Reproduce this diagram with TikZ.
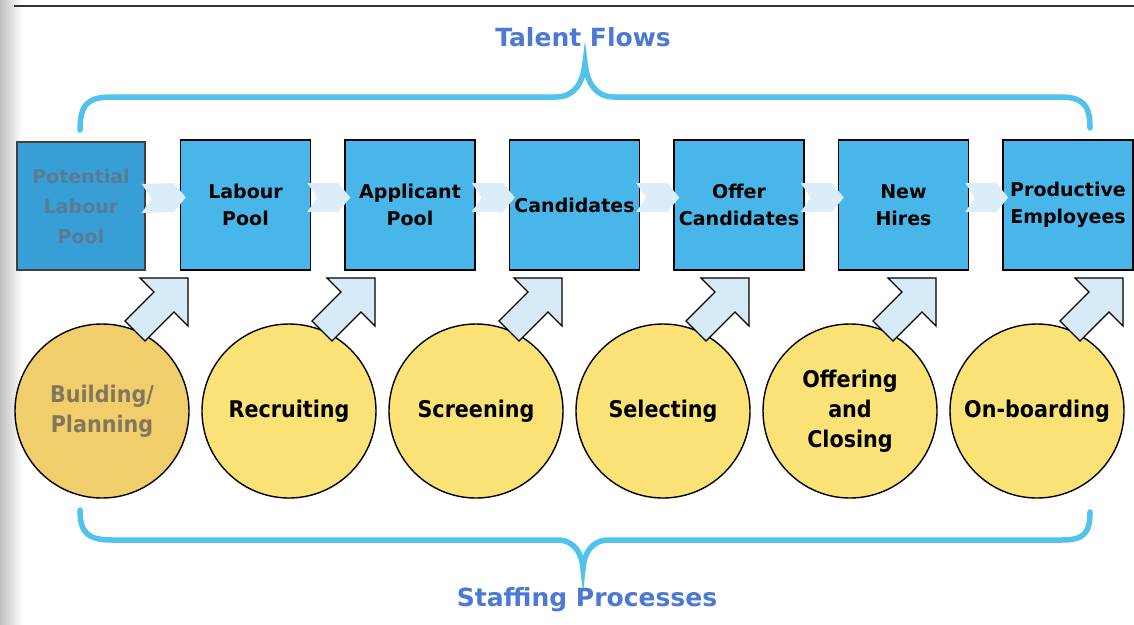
\documentclass[tikz,border=0pt]{standalone}
\usepackage{fontspec}
\setmainfont{DejaVu Sans}
\newfontfamily\condfont[FakeStretch=0.9]{DejaVu Sans}
\usetikzlibrary{calc}
\definecolor{boxblue}{RGB}{72,182,232}
\definecolor{boxblueA}{RGB}{56,158,214}
\definecolor{circyellow}{RGB}{250,226,118}
\definecolor{circyellowA}{RGB}{241,206,108}
\definecolor{arrowfill}{RGB}{214,234,247}
\definecolor{chevfill}{RGB}{218,237,249}
\definecolor{bracecol}{RGB}{80,194,236}
\definecolor{titlecol}{RGB}{76,121,212}
\definecolor{fadedbox}{RGB}{92,122,148}
\definecolor{fadedcirc}{RGB}{132,118,92}
\newcommand{\boxfont}{\bfseries\fontsize{19}{27}\selectfont}
\newcommand{\boxfontA}{\bfseries\fontsize{19}{30}\selectfont}
\newcommand{\circfont}{\condfont\bfseries\fontsize{23}{30}\selectfont}
\newcommand{\titlefont}{\bfseries\fontsize{25}{30}\selectfont}
\tikzset{
  fbox/.style={draw=black, line width=1.4pt, fill=boxblue, minimum width=130pt,
    minimum height=130pt, inner sep=0pt, align=center, font=\boxfont},
  fcirc/.style={circle, draw=black, line width=1.4pt, fill=circyellow,
    minimum size=174pt, inner sep=0pt, align=center, font=\circfont},
  darrow/.style={draw=black, line width=1.3pt, fill=arrowfill, line join=miter},
  chev/.style={fill=chevfill},
  brace/.style={draw=bracecol, line width=5.5pt, line cap=round},
  title/.style={text=titlecol, font=\titlefont, inner sep=0pt}
}
\begin{document}
\begin{tikzpicture}[x=1pt,y=-1pt]
\useasboundingbox (0,0) rectangle (1134,624);
\fill[white] (0,0) rectangle (1134,624);
% scan shading at left and top rule
\shade[left color=black!25, right color=white] (0,0) rectangle (22,624);
\draw[black!80, line width=1.5pt] (14,6) -- (1134,6);

% talent flow boxes
\node[fbox, fill=boxblueA, draw=black!75, minimum width=128pt, minimum height=128pt, text=fadedbox, font=\boxfontA] (b1) at (81,206) {Potential\\Labour\\Pool};
\node[fbox] (b2) at (245.5,205) {Labour\\Pool};
\node[fbox] (b3) at (410,205) {Applicant\\Pool};
\node[fbox] (b4) at (574.5,205) {Candidates};
\node[fbox] (b5) at (739,205) {Offer\\Candidates};
\node[fbox] (b6) at (903.5,205) {New\\Hires};
\node[fbox] (b7) at (1068,205) {Productive\\Employees};

% staffing process circles
\node[fcirc, fill=circyellowA, text=fadedcirc] (c1) at (102,411) {Building/\\Planning};
\node[fcirc] (c2) at (289,411) {Recruiting};
\node[fcirc] (c3) at (476,411) {Screening};
\node[fcirc] (c4) at (663,411) {Selecting};
\node[fcirc] (c5) at (850,411) {Offering\\and\\Closing};
\node[fcirc] (c6) at (1037,411) {On-boarding};

% chevrons between boxes
\foreach \a/\b in {b1/b2,b2/b3,b3/b4,b4/b5,b5/b6,b6/b7}{
  \fill[chev] ($(\a.east)+(-4,-22)$) -- ($(\b.west)+(-6,-22)$) -- ($(\b.west)+(6,-7.5)$)
    -- ($(\b.west)+(-6,7)$) -- ($(\a.east)+(-4,7)$) -- ($(\a.east)+(6,-7.5)$) -- cycle;
}

% diagonal block arrows from circles to the flow row
\foreach \c/\n in {c1/1,c2/2,c3/3,c4/4,c5/5,c6/6}{
  \coordinate (t\n) at ($(\c.center)+(86,-133)$);
  \draw[darrow] (t\n) -- ++(0,48) -- ++(-14,-14) -- ++(-29,29) -- ++(-20,-20)
    -- ++(29,-29) -- ++(-14,-14) -- cycle;
}

% braces
\draw[brace] (80,130) .. controls (80,104) and (88,97) .. (112,97) -- (556,97)
  .. controls (575,97) and (583,82) .. (585,63) .. controls (587,82) and (595,97) .. (614,97)
  -- (1060,97) .. controls (1083,97) and (1090,105) .. (1090,128);
\draw[brace] (80,510) .. controls (80,533) and (88,540) .. (112,540) -- (557,540)
  .. controls (575,540) and (582,554) .. (583,569) .. controls (584,554) and (591,540) .. (609,540)
  -- (1062,540) .. controls (1084,540) and (1090,533) .. (1090,512);

% titles
\node[title] (tf) at (583,37) {Talent Flows};
\node[title] (sp) at (587,600) {Staffing Processes};
\end{tikzpicture}
\end{document}
